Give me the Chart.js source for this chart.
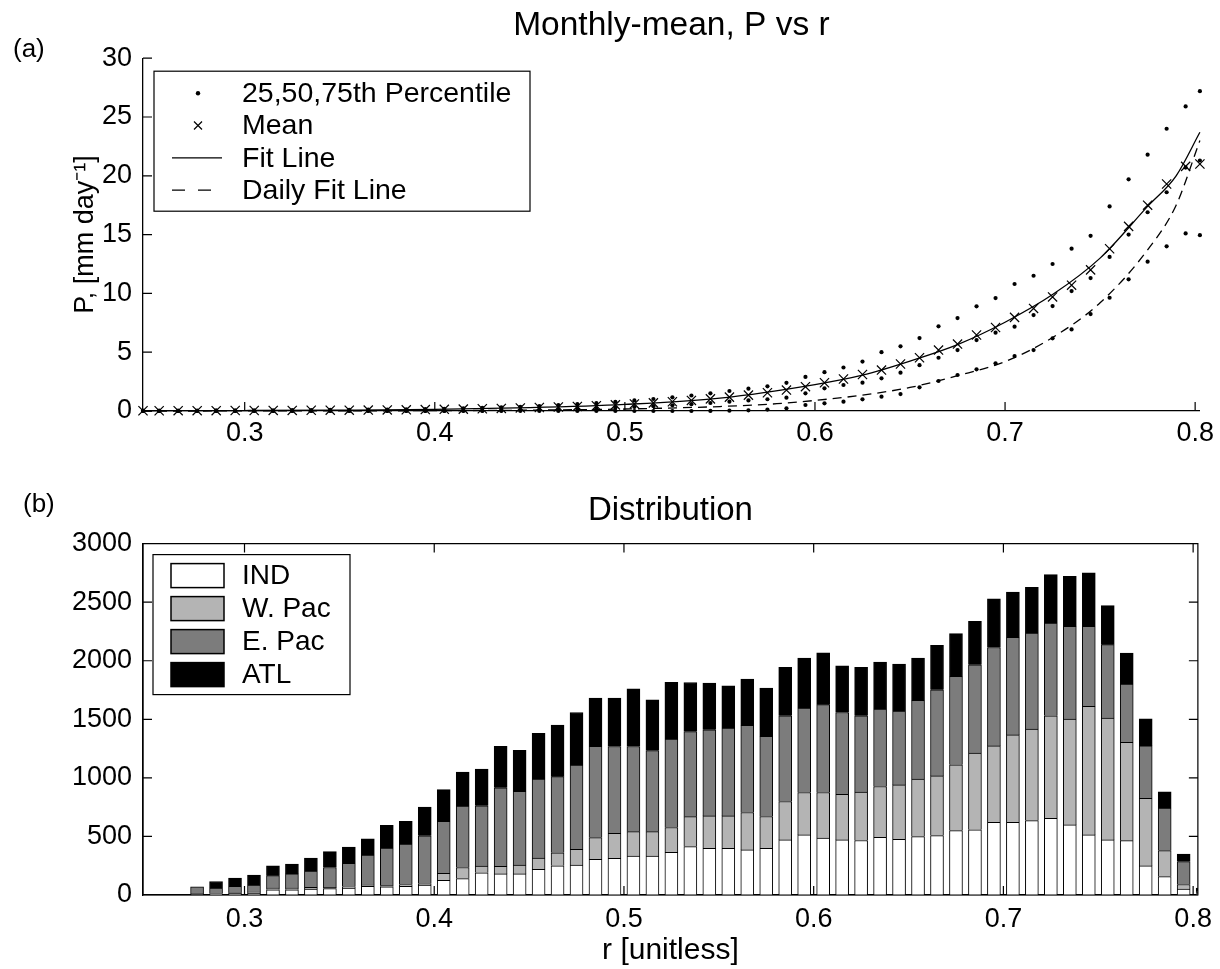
<!DOCTYPE html>
<html><head><meta charset="utf-8">
<script src="https://cdn.jsdelivr.net/npm/chart.js@4.4.1/dist/chart.umd.min.js"></script>
<style>
html,body{margin:0;padding:0;background:#fff;}
#wrap{position:relative;width:1220px;height:969px;overflow:hidden;font-family:"Liberation Sans",Arial,sans-serif;background:#fff;}
#c1{position:absolute;left:0;top:0;width:1220px;height:470px;}
#c2{position:absolute;left:0;top:470px;width:1220px;height:499px;}
.lab{position:absolute;font-size:26px;line-height:26px;color:#000;}
</style></head><body>
<div id="wrap">
<canvas id="c1" width="1220" height="470"></canvas>
<canvas id="c2" width="1220" height="499"></canvas>
<div class="lab" style="left:13px;top:35px">(a)</div>
<div class="lab" style="left:23px;top:490px">(b)</div>
</div>
<script>
// ---------- Panel (a) data ----------
const rBins = [0.2465,0.255,0.265,0.275,0.285,0.295,0.305,0.315,0.325,0.335,0.345,0.355,0.365,0.375,0.385,0.395,
  0.405,0.415,0.425,0.435,0.445,0.455,0.465,0.475,0.485,0.495,0.505,0.515,0.525,0.535,0.545,0.555,0.565,0.575,0.585,0.595,
  0.605,0.615,0.625,0.635,0.645,0.655,0.665,0.675,0.685,0.695,0.705,0.715,0.725,0.735,0.745,0.755,0.765,0.775,0.785,0.795,0.8025];
const meanP = [0.02,0.02,0.03,0.03,0.03,0.04,0.04,0.05,0.05,0.06,0.07,0.07,0.08,0.09,0.10,0.12,
  0.14,0.16,0.19,0.22,0.26,0.30,0.34,0.39,0.45,0.52,
  0.60,0.69,0.79,0.90,1.03,1.18,1.35,1.55,1.78,2.07,
  2.40,2.72,3.10,3.48,4.00,4.53,5.18,5.69,6.46,7.10,
  7.96,8.72,9.70,10.7,12.0,13.8,15.7,17.5,19.3,20.8,
  21.0];
const p75 = [0.03,0.03,0.04,0.04,0.05,0.05,0.06,0.06,0.07,0.08,0.09,0.10,0.11,0.12,0.14,0.16,
  0.19,0.22,0.26,0.30,0.36,0.42,0.50,0.58,0.67,0.78,
  0.90,1.02,1.16,1.32,1.50,1.70,1.90,2.10,2.40,2.90,
  3.30,3.70,4.20,5.00,5.50,6.20,7.20,7.90,8.90,9.60,
  10.8,11.5,12.5,13.8,14.9,17.4,19.7,21.8,24.0,25.9,
  27.2];
const p50 = [0,0,0,0,0,0,0,0,0,0,0,0,0,0,0,0,
  0.01,0.02,0.03,0.05,0.07,0.10,0.13,0.17,0.22,0.28,
  0.34,0.41,0.49,0.58,0.68,0.79,0.90,1.00,1.13,1.50,
  1.93,2.21,2.41,2.78,3.26,3.90,4.53,5.18,6.03,6.66,
  7.17,8.16,8.92,10.2,11.3,13.1,15.0,16.9,18.6,20.7,
  21.3];
const p25 = [0,0,0,0,0,0,0,0,0,0,0,0,0,0,0,0,
  0,0,0,0,0,0,0,0,0,0,
  0,0,0,0,0.01,0.03,0.06,0.12,0.23,0.51,
  0.65,0.79,0.99,1.22,1.44,2.01,2.55,3.06,3.54,4.05,
  4.67,5.18,6.18,6.94,8.24,9.63,11.2,12.7,14.0,15.1,
  14.95];
const fitR = [0.2465,0.30,0.35,0.40,0.45,0.50,0.55,0.60,0.625,0.65,0.675,0.70,0.725,0.75,0.775,0.79,0.8025];
const fitP = [0.02,0.04,0.07,0.13,0.28,0.56,1.1,2.25,3.05,4.25,5.65,7.55,9.9,13.0,17.4,20.0,23.7];
const dailyR = [0.2465,0.35,0.40,0.45,0.50,0.55,0.58,0.60,0.625,0.65,0.675,0.70,0.725,0.75,0.775,0.79,0.8025];
const dailyP = [0.0,0.01,0.03,0.07,0.17,0.38,0.62,0.9,1.35,2.0,3.0,4.2,6.25,9.2,13.7,17.5,23.0];
const namesA = ['25,50,75th Percentile','Mean','Fit Line','Daily Fit Line'];
const xTickVals = [0.3,0.4,0.5,0.6,0.7,0.8];
const yTickValsA = [0,5,10,15,20,25,30];

// ---------- Panel (b) data ----------
const binR = [0.275,0.285,0.295,0.305,0.315,0.325,0.335,0.345,0.355,0.365,
  0.375,0.385,0.395,0.405,0.415,0.425,0.435,0.445,0.455,0.465,
  0.475,0.485,0.495,0.505,0.515,0.525,0.535,0.545,0.555,0.565,
  0.575,0.585,0.595,0.605,0.615,0.625,0.635,0.645,0.655,0.665,
  0.675,0.685,0.695,0.705,0.715,0.725,0.735,0.745,0.755,0.765,
  0.775,0.785,0.795,0.805];
const indN = [5,10,15,15,45,45,50,55,60,75, 70,75,85,125,140,190,180,180,220,250,
  255,305,313,333,333,365,413,399,399,385, 399,470,513,485,470,465,493,476,499,507,
  550,556,621,621,635,655,598,513,470,464, 248,157,50,10];
const wpacN = [10,5,5,10,15,15,15,10,10,10, 10,15,10,60,95,57,65,75,95,110,
  135,185,214,208,208,211,256,276,276,319, 271,328,362,390,390,413,433,464,490,510,
  561,655,652,746,781,875,903,1097,1040,840, 578,222,40,10];
const epacN = [55,45,55,60,105,120,140,170,200,255, 320,345,410,445,525,515,670,630,675,650,
  720,780,741,727,692,755,726,735,749,744, 684,732,721,750,698,652,661,630,672,735,
  755,755,840,832,820,792,792,684,627,496, 447,362,195,20];
const atlN = [0,55,70,85,85,85,110,135,140,140, 195,195,245,270,290,313,355,350,390,440,
  448,411,413,493,433,484,419,399,362,396, 413,413,427,442,399,413,402,402,362,379,
  365,370,416,387,390,413,427,456,333,265, 231,140,65,20];
const namesB = ['IND','W. Pac','E. Pac','ATL'];
const yTickValsB = [0,500,1000,1500,2000,2500,3000];

// ---------- helpers ----------
const FONT = '"Liberation Sans", Arial, Helvetica, sans-serif';
Chart.defaults.font.family = FONT;
Chart.defaults.color = '#000';
const xy = (xs, ys) => xs.map((v, i) => ({x: v, y: ys[i]}));
const setTicks = vals => (s) => { s.ticks = vals.map(v => ({value: v})); };

const frameTicks = {
  id: 'frameTicks',
  afterDraw(chart, args, o) {
    const {ctx, chartArea: a, scales} = chart;
    const x = scales.x, y = scales.y, L = o.len;
    ctx.save();
    ctx.strokeStyle = '#000'; ctx.lineWidth = 1.2;
    ctx.beginPath();
    x.ticks.forEach(t => { const p = x.getPixelForValue(t.value);
      ctx.moveTo(p, a.bottom); ctx.lineTo(p, a.bottom - L);
      if (o.box) { ctx.moveTo(p, a.top); ctx.lineTo(p, a.top + L); } });
    y.ticks.forEach(t => { const p = y.getPixelForValue(t.value);
      ctx.moveTo(a.left, p); ctx.lineTo(a.left + L, p);
      if (o.box) { ctx.moveTo(a.right, p); ctx.lineTo(a.right - L, p); } });
    if (o.box) ctx.rect(a.left, a.top, a.right - a.left, a.bottom - a.top);
    ctx.stroke();
    ctx.restore();
  }
};

const boxLegend = {
  id: 'boxLegend',
  afterDraw(chart, args, o) {
    const {ctx, chartArea: a} = chart;
    const x0 = a.left + o.dx, y0 = a.top + o.dy;
    ctx.save();
    ctx.fillStyle = '#fff';
    ctx.fillRect(x0, y0, o.w, o.h);
    ctx.strokeStyle = '#000'; ctx.lineWidth = 1.2;
    ctx.strokeRect(x0, y0, o.w, o.h);
    ctx.font = o.font; ctx.textBaseline = 'middle'; ctx.textAlign = 'left';
    o.items.forEach((it, i) => {
      const yy = y0 + o.firstY + i * o.step;
      ctx.fillStyle = '#000'; ctx.strokeStyle = '#000'; ctx.lineWidth = 1.2; ctx.setLineDash([]);
      if (it.kind === 'dot') {
        ctx.beginPath(); ctx.arc(x0 + o.symX, yy, 2.2, 0, Math.PI * 2); ctx.fill();
      } else if (it.kind === 'cross') {
        const c = 4, cx = x0 + o.symX;
        ctx.beginPath(); ctx.moveTo(cx - c, yy - c); ctx.lineTo(cx + c, yy + c);
        ctx.moveTo(cx - c, yy + c); ctx.lineTo(cx + c, yy - c); ctx.stroke();
      } else if (it.kind === 'line' || it.kind === 'dash') {
        if (it.kind === 'dash') ctx.setLineDash([13, 13]);
        ctx.beginPath(); ctx.moveTo(x0 + o.lineX0, yy); ctx.lineTo(x0 + o.lineX1, yy); ctx.stroke();
        ctx.setLineDash([]);
      } else if (it.kind === 'swatch') {
        ctx.fillStyle = it.color;
        ctx.fillRect(x0 + o.lineX0, yy - 12, o.lineX1 - o.lineX0, 24);
        ctx.lineWidth = 1.5;
        ctx.strokeRect(x0 + o.lineX0, yy - 12, o.lineX1 - o.lineX0, 24);
      }
      ctx.fillStyle = '#000';
      ctx.fillText(it.label, x0 + o.textX, yy + 1);
    });
    ctx.restore();
  }
};

// ---------- Panel (a) ----------
const pctData = [];
rBins.forEach((r, i) => { pctData.push({x: r, y: p25[i]}, {x: r, y: p50[i]}, {x: r, y: p75[i]}); });

new Chart(document.getElementById('c1'), {
  type: 'scatter',
  data: { datasets: [
    { label: namesA[0], data: pctData, pointStyle: 'circle', pointRadius: 2.1, pointBackgroundColor: '#000',
      pointBorderWidth: 0, clip: false },
    { label: namesA[1], data: xy(rBins, meanP), pointStyle: 'crossRot', pointRadius: 6.5, pointBorderColor: '#000',
      pointBackgroundColor: 'rgba(0,0,0,0)', pointBorderWidth: 1.2, clip: false },
    { label: namesA[2], data: xy(fitR, fitP), showLine: true, borderColor: '#000', borderWidth: 1.3, pointRadius: 0,
      cubicInterpolationMode: 'monotone', fill: false, clip: false },
    { label: namesA[3], data: xy(dailyR, dailyP), showLine: true, borderColor: '#000', borderWidth: 1.3, pointRadius: 0,
      borderDash: [9, 6], cubicInterpolationMode: 'monotone', fill: false, clip: false }
  ]},
  options: {
    responsive: false, animation: false, events: [],
    layout: { padding: { left: 0, right: 19, top: 0, bottom: 0 } },
    plugins: {
      legend: { display: false }, tooltip: { enabled: false },
      title: { display: true, text: 'Monthly-mean, P vs r', fullSize: false, color: '#000',
        font: { size: 33.5, weight: 'normal' }, padding: { top: 6, bottom: 12 } },
      frameTicks: { len: 9, box: false },
      boxLegend: { dx: 11, dy: 13, w: 376, h: 140, firstY: 22, step: 32.3, symX: 44, lineX0: 18, lineX1: 68, textX: 88,
        font: '28.5px ' + FONT,
        items: namesA.map((n, i) => ({ label: n, kind: ['dot', 'cross', 'line', 'dash'][i] })) }
    },
    scales: {
      x: { type: 'linear', min: 0.2465, max: 0.8025,
        grid: { display: false, drawTicks: false },
        border: { display: true, color: '#000', width: 1.3 },
        ticks: { padding: 6, font: { size: 27 }, color: '#000', autoSkip: false, maxRotation: 0, callback: v => String(v) },
        afterBuildTicks: setTicks(xTickVals),
        afterFit: s => { s.height = 59; } },
      y: { type: 'linear', min: 0, max: 30,
        grid: { display: false, drawTicks: false },
        border: { display: true, color: '#000', width: 1.3 },
        ticks: { padding: 11, font: { size: 27 }, color: '#000', autoSkip: false, callback: v => String(v) },
        afterBuildTicks: setTicks(yTickValsA),
        afterFit: s => { s.width = 143; },
        title: { display: true, text: 'P, [mm day\u207B\u00B9]', color: '#000', font: { size: 27 }, padding: { top: 69, bottom: 0 } } }
    }
  },
  plugins: [frameTicks, boxLegend]
});

// ---------- Panel (b) ----------
const colorsB = ['#ffffff', '#b4b4b4', '#7c7c7c', '#000000'];
const seriesB = [indN, wpacN, epacN, atlN];

new Chart(document.getElementById('c2'), {
  type: 'bar',
  data: { datasets: seriesB.map((vals, k) => ({
    label: namesB[k], data: xy(binR, vals), backgroundColor: colorsB[k], borderColor: '#000', borderWidth: 1,
    borderSkipped: 'start', barThickness: 13, clip: 0 })) },
  options: {
    responsive: false, animation: false, events: [],
    layout: { padding: { left: 0, right: 19, top: 0, bottom: 0 } },
    plugins: {
      legend: { display: false }, tooltip: { enabled: false },
      title: { display: true, text: 'Distribution', fullSize: false, color: '#000',
        font: { size: 33, weight: 'normal' }, padding: { top: 21, bottom: 13 } },
      frameTicks: { len: 9, box: true },
      boxLegend: { dx: 10, dy: 11, w: 197, h: 140, firstY: 21, step: 33, symX: 44, lineX0: 18, lineX1: 71, textX: 89,
        font: '28px ' + FONT,
        items: namesB.map((n, i) => ({ label: n, kind: 'swatch', color: colorsB[i] })) }
    },
    scales: {
      x: { type: 'linear', min: 0.2465, max: 0.8025, offset: false, stacked: true,
        grid: { display: false, drawTicks: false },
        border: { display: true, color: '#000', width: 1.3 },
        ticks: { padding: 8, font: { size: 27 }, color: '#000', autoSkip: false, maxRotation: 0, callback: v => String(v) },
        afterBuildTicks: setTicks(xTickVals),
        afterFit: s => { s.height = 74; },
        title: { display: true, text: 'r [unitless]', color: '#000', font: { size: 30 }, padding: { top: 0, bottom: 0 } } },
      y: { type: 'linear', min: 0, max: 3000, stacked: true,
        grid: { display: false, drawTicks: false },
        border: { display: true, color: '#000', width: 1.3 },
        ticks: { padding: 11, font: { size: 27 }, color: '#000', autoSkip: false, callback: v => String(v) },
        afterBuildTicks: setTicks(yTickValsB),
        afterFit: s => { s.width = 143; } }
    }
  },
  plugins: [frameTicks, boxLegend]
});
</script>
</body></html>
